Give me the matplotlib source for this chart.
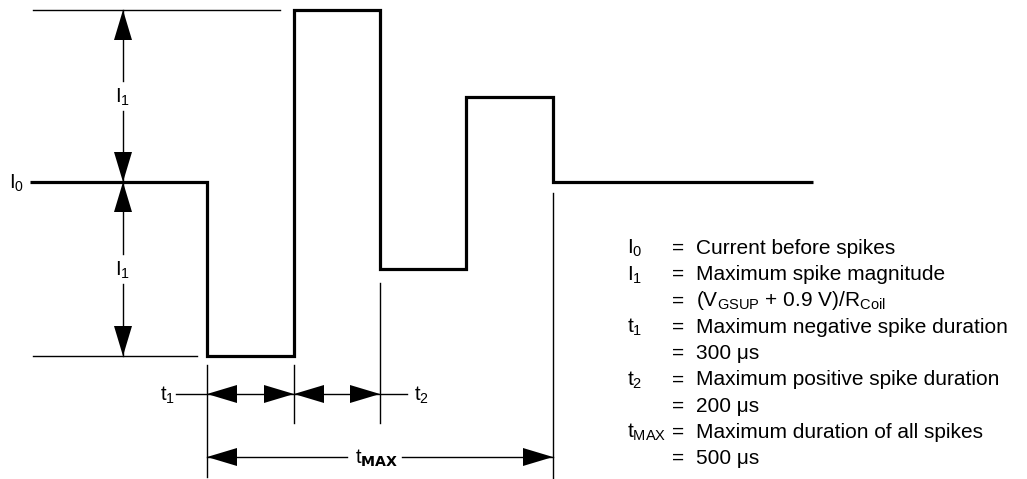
import matplotlib.pyplot as plt

plt.rcParams['font.family'] = ['Liberation Sans', 'DejaVu Sans']
plt.rcParams['mathtext.default'] = 'regular'

# current waveform as steps (x = time, y = current; drawn on a pixel-like scale, y downwards)
edges = [30, 207, 294, 380, 466, 553, 813]
levels = [182, 356, 10, 269, 97, 182]

legend_symbols = ['I$_0$', 'I$_1$', '', 't$_1$', '', 't$_2$', '', 't$_{MAX}$', '']
legend_texts = [
    'Current before spikes',
    'Maximum spike magnitude',
    '(V$_{GSUP}$ + 0.9 V)/R$_{Coil}$',
    'Maximum negative spike duration',
    '300 μs',
    'Maximum positive spike duration',
    '200 μs',
    'Maximum duration of all spikes',
    '500 μs',
]

FS = 14.5      # labels in the drawing
LFS = 15       # definitions
HEAD_L = 30
HEAD_W = 9


def head(ax, x, y, direction):
    # filled triangular arrow head, tip at (x, y)
    if direction == 'left':
        xs, ys = [x, x + HEAD_L, x + HEAD_L], [y, y - HEAD_W, y + HEAD_W]
    elif direction == 'right':
        xs, ys = [x, x - HEAD_L, x - HEAD_L], [y, y - HEAD_W, y + HEAD_W]
    elif direction == 'up':
        xs, ys = [x, x - HEAD_W, x + HEAD_W], [y, y + HEAD_L, y + HEAD_L]
    else:
        xs, ys = [x, x - HEAD_W, x + HEAD_W], [y, y - HEAD_L, y - HEAD_L]
    ax.fill(xs, ys, color='black', lw=0)


def vdim(ax, x, y0, y1, label, gap=15):
    mid = (y0 + y1) / 2
    ax.plot([x, x], [y0, mid - gap], color='black', lw=1)
    ax.plot([x, x], [mid + gap, y1], color='black', lw=1)
    head(ax, x, y0, 'up')
    head(ax, x, y1, 'down')
    ax.text(x, mid + 7, label, fontsize=FS, ha='center', va='baseline')


fig = plt.figure(figsize=(10.27, 4.79), dpi=100)
ax = fig.add_axes([0, 0, 1, 1])
ax.set_xlim(0, 1027)
ax.set_ylim(479, 0)
ax.axis('off')

ax.stairs(levels, edges, baseline=None, color='black', lw=2.3, joinstyle='miter')

i0 = levels[0]
top = levels[2]
bottom = levels[1]

# reference lines for the spike magnitudes
ax.plot([33, 280], [top, top], color='black', lw=1)
ax.plot([33, edges[1] - 10], [bottom, bottom], color='black', lw=1)
ax.text(24, i0 + 7, 'I$_0$', fontsize=FS, ha='right', va='baseline')

vdim(ax, 123, top, i0, 'I$_1$')
vdim(ax, 123, i0, bottom, 'I$_1$')

# extension lines for the time dimensions
ax.plot([edges[1], edges[1]], [365, 477], color='black', lw=1)
ax.plot([edges[2], edges[2]], [365, 423], color='black', lw=1)
ax.plot([edges[3], edges[3]], [283, 423], color='black', lw=1)
ax.plot([edges[5], edges[5]], [193, 479], color='black', lw=1)

# t1 / t2 row
ty = 394
ax.plot([176, edges[3] + 27], [ty, ty], color='black', lw=1)
head(ax, edges[1], ty, 'left')
head(ax, edges[2], ty, 'right')
head(ax, edges[2], ty, 'left')
head(ax, edges[3], ty, 'right')
ax.text(175, ty + 7, 't$_1$', fontsize=FS, ha='right', va='baseline')
ax.text(edges[3] + 34, ty + 7, 't$_2$', fontsize=FS, ha='left', va='baseline')

# tMAX row
my = 457
ax.plot([edges[1], 347], [my, my], color='black', lw=1)
ax.plot([402, edges[5]], [my, my], color='black', lw=1)
head(ax, edges[1], my, 'left')
head(ax, edges[5], my, 'right')
ax.text(377, my + 7, r't$_{\mathbf{MAX}}$', fontsize=FS, ha='center', va='baseline')

# definitions
for i, (sym, txt) in enumerate(zip(legend_symbols, legend_texts)):
    y = 247 + 26.25 * i + 7
    if sym:
        ax.text(627, y, sym, fontsize=LFS, ha='left', va='baseline')
    ax.text(672, y, '=', fontsize=LFS, ha='left', va='baseline')
    ax.text(696, y, txt, fontsize=LFS, ha='left', va='baseline')

fig.savefig('out.png', dpi=100)
